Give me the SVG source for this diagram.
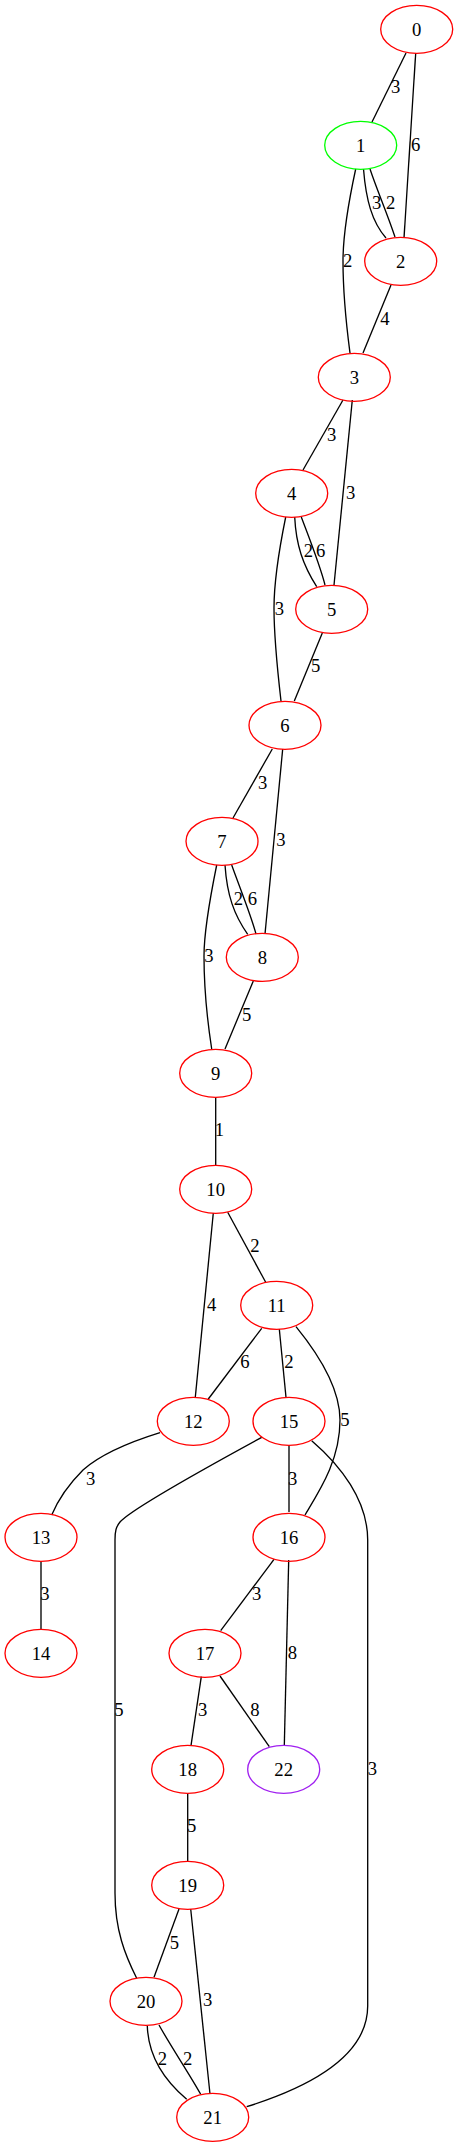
<svg xmlns="http://www.w3.org/2000/svg" width="459" height="2147" viewBox="0 0 459 2147">
<style>
.n ellipse{fill:none;stroke:#ff0000;stroke-width:1.33}
.n text,.l text{font-family:"Liberation Serif","Times New Roman",serif;font-size:18.67px;text-anchor:middle;fill:#000}
#edges path{fill:none;stroke:#000;stroke-width:1.33}
</style>
<rect width="459" height="2147" fill="#fff"/>
<g id="edges">
<path d="M406,53 L372,122"/>
<path d="M415.7,53 L404,238"/>
<path d="M363.5,169 C366,200 372,222 386,238"/>
<path d="M370,169 C377,190 387,213 395,237"/>
<path d="M355.7,169 C349,200 343,235 343,261 C343,300 347,330 350,353"/>
<path d="M391,285 L363,353"/>
<path d="M343,400 L303,470"/>
<path d="M352.3,400 L334,585"/>
<path d="M294.7,517 C296,545 303,565 316.7,586.7"/>
<path d="M301.3,517 C308,535 320,565 325,585"/>
<path d="M285.7,517 C279,550 274,585 274,608 C274,640 278,675 281,701"/>
<path d="M322.3,633 L294.3,701"/>
<path d="M272.3,749 L233,818"/>
<path d="M282.7,749 L265,934"/>
<path d="M225,865 C227,895 234,915 247.7,934.3"/>
<path d="M231.7,865 C238,883 251,915 256,934"/>
<path d="M216.7,865 C210,898 204,935 204,956 C204,990 208,1025 211.7,1049"/>
<path d="M253.3,981 L225,1049"/>
<path d="M215.7,1097 L215.7,1165"/>
<path d="M227.7,1212.3 L265.7,1282.3"/>
<path d="M213.3,1213 L195.3,1397.3"/>
<path d="M261.7,1328.3 L208.3,1399"/>
<path d="M279.3,1329 L286,1397.3"/>
<path d="M296,1326.7 C315,1350 340,1385 340,1420 C340,1460 320,1490 305,1515"/>
<path d="M160,1432.7 C130,1442 100,1455 83,1470 C68,1485 58,1500 51.7,1515"/>
<path d="M289,1445 L289,1512"/>
<path d="M261.7,1437.3 C220,1460 130,1510 120,1522 C116,1527 115,1531 115,1540 L115,1893 C115,1930 125,1955 136.7,1978.3"/>
<path d="M311.7,1440.7 C340,1465 367.7,1500 367.7,1540 L367.7,2006 C367.7,2060 300,2090 246.7,2106.7"/>
<path d="M41,1561 L41,1629"/>
<path d="M274,1559.3 L220.7,1630.7"/>
<path d="M288.7,1560 L284.3,1745.7"/>
<path d="M201.3,1676.7 L191,1745.7"/>
<path d="M220,1676 L269.3,1746.7"/>
<path d="M187.7,1793 L187.7,1861"/>
<path d="M179,1909 L154,1977.3"/>
<path d="M190.7,1909 L210,2094"/>
<path d="M147.3,2025.7 C148,2050 158,2075 186.7,2099.3"/>
<path d="M159,2025 C170,2045 190,2075 200.7,2094.3"/>
</g>
<g class="l" id="edge-labels">
<text x="395.7" y="93">3</text>
<text x="415.7" y="150.5">6</text>
<text x="376.7" y="208.5">3</text>
<text x="390.7" y="208.5">2</text>
<text x="347.7" y="267">2</text>
<text x="385" y="325">4</text>
<text x="331.7" y="440.5">3</text>
<text x="350.7" y="499">3</text>
<text x="308.3" y="557">2</text>
<text x="320.7" y="557">6</text>
<text x="279.3" y="614.5">3</text>
<text x="315.7" y="672">5</text>
<text x="262.7" y="788.5">3</text>
<text x="281" y="846">3</text>
<text x="238.3" y="904.5">2</text>
<text x="252.3" y="904.5">6</text>
<text x="209" y="962">3</text>
<text x="246.7" y="1020.5">5</text>
<text x="219.3" y="1136">1</text>
<text x="255" y="1252">2</text>
<text x="211.7" y="1310.5">4</text>
<text x="245" y="1368">6</text>
<text x="289" y="1368">2</text>
<text x="345" y="1426">5</text>
<text x="90.7" y="1484.5">3</text>
<text x="292.7" y="1484.5">3</text>
<text x="119" y="1716">5</text>
<text x="372.3" y="1775">3</text>
<text x="45" y="1600">3</text>
<text x="256.7" y="1600">3</text>
<text x="292.3" y="1659">8</text>
<text x="202.7" y="1716">3</text>
<text x="255" y="1716">8</text>
<text x="191.7" y="1832">5</text>
<text x="174.3" y="1948.5">5</text>
<text x="207.7" y="2006">3</text>
<text x="162.3" y="2064.5">2</text>
<text x="187.7" y="2064.5">2</text>
</g>
<g class="n" id="node0"><ellipse cx="416.7" cy="29.3" rx="36" ry="24"/><text x="416.7" y="35.5">0</text></g>
<g class="n" id="node1"><ellipse cx="360.7" cy="145.3" rx="36" ry="24" style="stroke:#00ff00"/><text x="360.7" y="151.5">1</text></g>
<g class="n" id="node2"><ellipse cx="400.7" cy="261.3" rx="36" ry="24"/><text x="400.7" y="267.5">2</text></g>
<g class="n" id="node3"><ellipse cx="354.3" cy="377.3" rx="36" ry="24"/><text x="354.3" y="383.5">3</text></g>
<g class="n" id="node4"><ellipse cx="291.7" cy="493.3" rx="36" ry="24"/><text x="291.7" y="499.5">4</text></g>
<g class="n" id="node5"><ellipse cx="331.7" cy="609.3" rx="36" ry="24"/><text x="331.7" y="615.5">5</text></g>
<g class="n" id="node6"><ellipse cx="285" cy="725.3" rx="36" ry="24"/><text x="285" y="731.5">6</text></g>
<g class="n" id="node7"><ellipse cx="222" cy="841.3" rx="36" ry="24"/><text x="222" y="847.5">7</text></g>
<g class="n" id="node8"><ellipse cx="262.3" cy="957.3" rx="36" ry="24"/><text x="262.3" y="963.5">8</text></g>
<g class="n" id="node9"><ellipse cx="215.7" cy="1073.3" rx="36" ry="24"/><text x="215.7" y="1079.5">9</text></g>
<g class="n" id="node10"><ellipse cx="215.7" cy="1189.3" rx="36" ry="24"/><text x="215.7" y="1195.5">10</text></g>
<g class="n" id="node11"><ellipse cx="276.7" cy="1305.3" rx="36" ry="24"/><text x="276.7" y="1311.5">11</text></g>
<g class="n" id="node12"><ellipse cx="193.3" cy="1421.3" rx="36" ry="24"/><text x="193.3" y="1427.5">12</text></g>
<g class="n" id="node15"><ellipse cx="289" cy="1421.3" rx="36" ry="24"/><text x="289" y="1427.5">15</text></g>
<g class="n" id="node13"><ellipse cx="41" cy="1537.3" rx="36" ry="24"/><text x="41" y="1543.5">13</text></g>
<g class="n" id="node16"><ellipse cx="289" cy="1537.3" rx="36" ry="24"/><text x="289" y="1543.5">16</text></g>
<g class="n" id="node14"><ellipse cx="41" cy="1653.3" rx="36" ry="24"/><text x="41" y="1659.5">14</text></g>
<g class="n" id="node17"><ellipse cx="205" cy="1653.3" rx="36" ry="24"/><text x="205" y="1659.5">17</text></g>
<g class="n" id="node18"><ellipse cx="187.7" cy="1769.3" rx="36" ry="24"/><text x="187.7" y="1775.5">18</text></g>
<g class="n" id="node22"><ellipse cx="283.7" cy="1769.3" rx="36" ry="24" style="stroke:#a020f0"/><text x="283.7" y="1775.5">22</text></g>
<g class="n" id="node19"><ellipse cx="187.7" cy="1885.3" rx="36" ry="24"/><text x="187.7" y="1891.5">19</text></g>
<g class="n" id="node20"><ellipse cx="146" cy="2001.3" rx="36" ry="24"/><text x="146" y="2007.5">20</text></g>
<g class="n" id="node21"><ellipse cx="212.7" cy="2117.3" rx="36" ry="24"/><text x="212.7" y="2123.5">21</text></g>
</svg>
